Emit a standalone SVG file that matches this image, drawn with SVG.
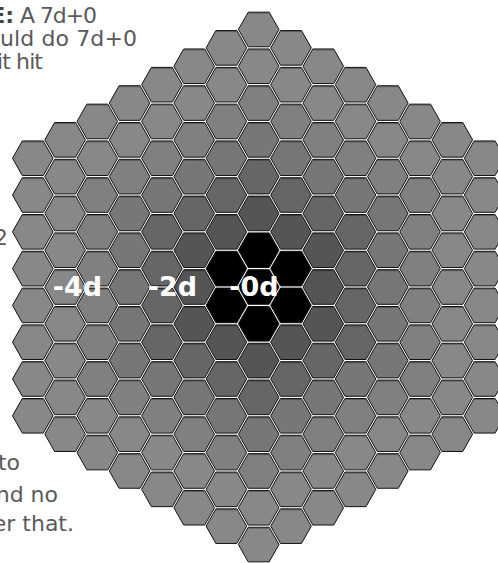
<svg xmlns="http://www.w3.org/2000/svg" xmlns:xlink="http://www.w3.org/1999/xlink" width="498" height="563" viewBox="0 0 498 563">
<style>
.t{font-family:"DejaVu Sans",sans-serif;font-size:22px;fill:#5a5a5a}
.e{text-anchor:end}
.b{font-weight:bold;fill:#444}
.lbl{font-family:"DejaVu Sans",sans-serif;font-weight:bold;font-size:27px;fill:#fff;text-anchor:middle}
.k0{fill:#000}.k2{fill:#555}.k3{fill:#666}.k4{fill:#777}.k5{fill:#808080}.k6{fill:#888}
</style>
<defs>
<g id="hx"><polygon points="-20.3,0 -10.5,-17.3 10.5,-17.3 20.3,0 10.5,17.3 -10.5,17.3" stroke="#111" stroke-width="1"/><path d="M-10,-16.3H10" stroke="#000" stroke-opacity=".3" stroke-width="1"/></g>
</defs>
<rect width="498" height="563" fill="#fff"/>
<g id="notes">
<text class="t b e" x="14" y="22.5">E:</text>
<text class="t" x="20" y="22.5" textLength="77" lengthAdjust="spacing">A 7d+0</text>
<text class="t" x="0" y="45.5" textLength="137" lengthAdjust="spacing">uld do 7d+0</text>
<text class="t e" x="43" y="68.5" textLength="46" lengthAdjust="spacing">it hit</text>
<text class="t e" x="8" y="245">2</text>
<text class="t e" x="20" y="470">to</text>
<text class="t e" x="58" y="502">nd no</text>
<text class="t e" x="74" y="531">er that.</text>
</g>
<g id="grid">
<g id="col-m7" transform="translate(32.8 0)">
<use href="#hx" class="k6" y="158.24"/><use href="#hx" class="k6" y="195.03"/><use href="#hx" class="k6" y="231.82"/><use href="#hx" class="k6" y="268.61"/><use href="#hx" class="k6" y="305.4"/><use href="#hx" class="k6" y="342.19"/><use href="#hx" class="k6" y="378.98"/><use href="#hx" class="k6" y="415.77"/>
</g>
<g id="col-m6" transform="translate(65.1 0)">
<use href="#hx" class="k6" y="139.84"/><use href="#hx" class="k6" y="176.63"/><use href="#hx" class="k6" y="213.42"/><use href="#hx" class="k6" y="250.21"/><use href="#hx" class="k6" y="287"/><use href="#hx" class="k6" y="323.79"/><use href="#hx" class="k6" y="360.58"/><use href="#hx" class="k6" y="397.37"/><use href="#hx" class="k6" y="434.16"/>
</g>
<g id="col-m5" transform="translate(97.35 0)">
<use href="#hx" class="k6" y="121.45"/><use href="#hx" class="k6" y="158.24"/><use href="#hx" class="k5" y="195.03"/><use href="#hx" class="k5" y="231.82"/><use href="#hx" class="k5" y="268.61"/><use href="#hx" class="k5" y="305.4"/><use href="#hx" class="k5" y="342.19"/><use href="#hx" class="k5" y="378.98"/><use href="#hx" class="k6" y="415.77"/><use href="#hx" class="k6" y="452.56"/>
</g>
<g id="col-m4" transform="translate(129.6 0)">
<use href="#hx" class="k6" y="103.05"/><use href="#hx" class="k6" y="139.84"/><use href="#hx" class="k5" y="176.63"/><use href="#hx" class="k4" y="213.42"/><use href="#hx" class="k4" y="250.21"/><use href="#hx" class="k4" y="287"/><use href="#hx" class="k4" y="323.79"/><use href="#hx" class="k4" y="360.58"/><use href="#hx" class="k5" y="397.37"/><use href="#hx" class="k6" y="434.16"/><use href="#hx" class="k6" y="470.95"/>
</g>
<g id="col-m3" transform="translate(161.9 0)">
<use href="#hx" class="k6" y="84.66"/><use href="#hx" class="k6" y="121.45"/><use href="#hx" class="k5" y="158.24"/><use href="#hx" class="k4" y="195.03"/><use href="#hx" class="k3" y="231.82"/><use href="#hx" class="k3" y="268.61"/><use href="#hx" class="k3" y="305.4"/><use href="#hx" class="k3" y="342.19"/><use href="#hx" class="k4" y="378.98"/><use href="#hx" class="k5" y="415.77"/><use href="#hx" class="k6" y="452.56"/><use href="#hx" class="k6" y="489.35"/>
</g>
<g id="col-m2" transform="translate(194.2 0)">
<use href="#hx" class="k6" y="66.26"/><use href="#hx" class="k6" y="103.05"/><use href="#hx" class="k5" y="139.84"/><use href="#hx" class="k4" y="176.63"/><use href="#hx" class="k3" y="213.42"/><use href="#hx" class="k2" y="250.21"/><use href="#hx" class="k2" y="287"/><use href="#hx" class="k2" y="323.79"/><use href="#hx" class="k3" y="360.58"/><use href="#hx" class="k4" y="397.37"/><use href="#hx" class="k5" y="434.16"/><use href="#hx" class="k6" y="470.95"/><use href="#hx" class="k6" y="507.74"/>
</g>
<g id="col-m1" transform="translate(226.4 0)">
<use href="#hx" class="k6" y="47.87"/><use href="#hx" class="k6" y="84.66"/><use href="#hx" class="k5" y="121.45"/><use href="#hx" class="k4" y="158.24"/><use href="#hx" class="k3" y="195.03"/><use href="#hx" class="k2" y="231.82"/><use href="#hx" class="k0" y="268.61"/><use href="#hx" class="k0" y="305.4"/><use href="#hx" class="k2" y="342.19"/><use href="#hx" class="k3" y="378.98"/><use href="#hx" class="k4" y="415.77"/><use href="#hx" class="k5" y="452.56"/><use href="#hx" class="k6" y="489.35"/><use href="#hx" class="k6" y="526.14"/>
</g>
<g id="col-0" transform="translate(258.7 0)">
<use href="#hx" class="k6" y="29.47"/><use href="#hx" class="k6" y="66.26"/><use href="#hx" class="k5" y="103.05"/><use href="#hx" class="k4" y="139.84"/><use href="#hx" class="k3" y="176.63"/><use href="#hx" class="k2" y="213.42"/><use href="#hx" class="k0" y="250.21"/><use href="#hx" class="k0" y="287"/><use href="#hx" class="k0" y="323.79"/><use href="#hx" class="k2" y="360.58"/><use href="#hx" class="k3" y="397.37"/><use href="#hx" class="k4" y="434.16"/><use href="#hx" class="k5" y="470.95"/><use href="#hx" class="k6" y="507.74"/><use href="#hx" class="k6" y="544.53"/>
</g>
<g id="col-p1" transform="translate(291 0)">
<use href="#hx" class="k6" y="47.87"/><use href="#hx" class="k6" y="84.66"/><use href="#hx" class="k5" y="121.45"/><use href="#hx" class="k4" y="158.24"/><use href="#hx" class="k3" y="195.03"/><use href="#hx" class="k2" y="231.82"/><use href="#hx" class="k0" y="268.61"/><use href="#hx" class="k0" y="305.4"/><use href="#hx" class="k2" y="342.19"/><use href="#hx" class="k3" y="378.98"/><use href="#hx" class="k4" y="415.77"/><use href="#hx" class="k5" y="452.56"/><use href="#hx" class="k6" y="489.35"/><use href="#hx" class="k6" y="526.14"/>
</g>
<g id="col-p2" transform="translate(323.25 0)">
<use href="#hx" class="k6" y="66.26"/><use href="#hx" class="k6" y="103.05"/><use href="#hx" class="k5" y="139.84"/><use href="#hx" class="k4" y="176.63"/><use href="#hx" class="k3" y="213.42"/><use href="#hx" class="k2" y="250.21"/><use href="#hx" class="k2" y="287"/><use href="#hx" class="k2" y="323.79"/><use href="#hx" class="k3" y="360.58"/><use href="#hx" class="k4" y="397.37"/><use href="#hx" class="k5" y="434.16"/><use href="#hx" class="k6" y="470.95"/><use href="#hx" class="k6" y="507.74"/>
</g>
<g id="col-p3" transform="translate(355.5 0)">
<use href="#hx" class="k6" y="84.66"/><use href="#hx" class="k6" y="121.45"/><use href="#hx" class="k5" y="158.24"/><use href="#hx" class="k4" y="195.03"/><use href="#hx" class="k3" y="231.82"/><use href="#hx" class="k3" y="268.61"/><use href="#hx" class="k3" y="305.4"/><use href="#hx" class="k3" y="342.19"/><use href="#hx" class="k4" y="378.98"/><use href="#hx" class="k5" y="415.77"/><use href="#hx" class="k6" y="452.56"/><use href="#hx" class="k6" y="489.35"/>
</g>
<g id="col-p4" transform="translate(387.8 0)">
<use href="#hx" class="k6" y="103.05"/><use href="#hx" class="k6" y="139.84"/><use href="#hx" class="k5" y="176.63"/><use href="#hx" class="k4" y="213.42"/><use href="#hx" class="k4" y="250.21"/><use href="#hx" class="k4" y="287"/><use href="#hx" class="k4" y="323.79"/><use href="#hx" class="k4" y="360.58"/><use href="#hx" class="k5" y="397.37"/><use href="#hx" class="k6" y="434.16"/><use href="#hx" class="k6" y="470.95"/>
</g>
<g id="col-p5" transform="translate(420.05 0)">
<use href="#hx" class="k6" y="121.45"/><use href="#hx" class="k6" y="158.24"/><use href="#hx" class="k5" y="195.03"/><use href="#hx" class="k5" y="231.82"/><use href="#hx" class="k5" y="268.61"/><use href="#hx" class="k5" y="305.4"/><use href="#hx" class="k5" y="342.19"/><use href="#hx" class="k5" y="378.98"/><use href="#hx" class="k6" y="415.77"/><use href="#hx" class="k6" y="452.56"/>
</g>
<g id="col-p6" transform="translate(452.3 0)">
<use href="#hx" class="k6" y="139.84"/><use href="#hx" class="k6" y="176.63"/><use href="#hx" class="k6" y="213.42"/><use href="#hx" class="k6" y="250.21"/><use href="#hx" class="k6" y="287"/><use href="#hx" class="k6" y="323.79"/><use href="#hx" class="k6" y="360.58"/><use href="#hx" class="k6" y="397.37"/><use href="#hx" class="k6" y="434.16"/>
</g>
<g id="col-p7" transform="translate(484.6 0)">
<use href="#hx" class="k6" y="158.24"/><use href="#hx" class="k6" y="195.03"/><use href="#hx" class="k6" y="231.82"/><use href="#hx" class="k6" y="268.61"/><use href="#hx" class="k6" y="305.4"/><use href="#hx" class="k6" y="342.19"/><use href="#hx" class="k6" y="378.98"/><use href="#hx" class="k6" y="415.77"/>
</g>
</g>
<g id="labels">
<text class="lbl" x="77.5" y="296">-4d</text>
<text class="lbl" x="172.5" y="296">-2d</text>
<text class="lbl" x="254" y="296">-0d</text>
</g>
</svg>
